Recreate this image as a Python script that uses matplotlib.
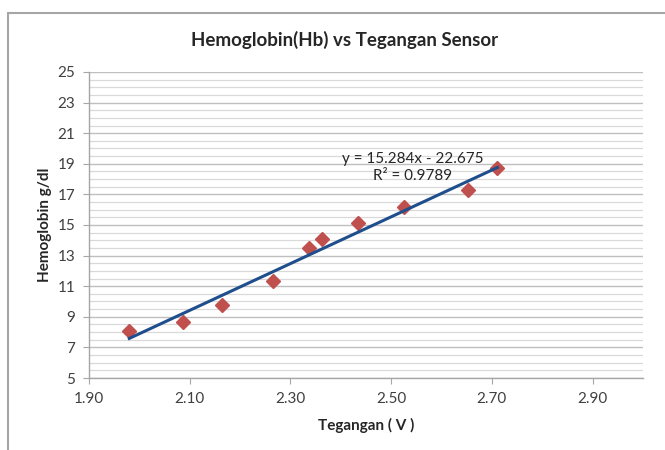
import numpy as np
import matplotlib
matplotlib.use('Agg')
import matplotlib.pyplot as plt
from matplotlib.patches import Rectangle
from matplotlib.ticker import MultipleLocator, FormatStrFormatter

# data
tegangan = [1.980, 2.086, 2.164, 2.266, 2.337, 2.362, 2.434, 2.525, 2.653, 2.711]
hb = [8.07, 8.64, 9.77, 11.36, 13.52, 14.07, 15.11, 16.16, 17.29, 18.71]
slope = 15.284
intercept = -22.675
r2 = 0.9789

plt.rcParams['font.family'] = ['Lato', 'DejaVu Sans']

fig = plt.figure(figsize=(6.65, 4.5), dpi=100)
ax = fig.add_axes([89 / 665, 1 - 378 / 450, (643 - 89) / 665, (378 - 72) / 450])

# chart area border (right and bottom edges fall outside the image)
fig.patches.append(Rectangle((8 / 665, -0.05), 1.1, 1 - 13 / 450 + 0.05,
                             transform=fig.transFigure, fill=False,
                             edgecolor='#a6a6a6', linewidth=1.5))

ax.plot(tegangan, hb, linestyle='none', marker='D', markersize=7.5,
        color='#c0504d', zorder=3)

xs = np.array([min(tegangan), max(tegangan)])
ax.plot(xs, slope * xs + intercept, color='#1f4e8c', linewidth=2.2, zorder=4)

ax.text(2.542, 18.75, 'y = %.3fx - %.3f\nR² = %.4f' % (slope, -intercept, r2),
        ha='center', va='center', fontsize=11, color='#262626',
        linespacing=1.3, zorder=5)

ax.set_xlim(1.9, 3.0)
ax.set_ylim(5, 25)
ax.set_xticks(np.arange(1.9, 2.95, 0.2))
ax.xaxis.set_major_formatter(FormatStrFormatter('%.2f'))
ax.set_yticks(np.arange(5, 26, 2))
ax.yaxis.set_minor_locator(MultipleLocator(0.5))

ax.grid(True, axis='y', which='major', color='#bfbfbf', linewidth=1.0)
ax.grid(True, axis='y', which='minor', color='#d9d9d9', linewidth=0.9)
ax.set_axisbelow(True)

for s in ['top', 'right']:
    ax.spines[s].set_visible(False)
for s in ['left', 'bottom']:
    ax.spines[s].set_color('#a6a6a6')
    ax.spines[s].set_linewidth(1.0)

ax.tick_params(which='major', direction='out', length=4, color='#a6a6a6',
               labelsize=11, labelcolor='#404040', pad=6)
ax.tick_params(which='minor', length=0)

fig.text(345 / 665, 1 - 40 / 450, 'Hemoglobin(Hb) vs Tegangan Sensor',
         ha='center', va='center', fontsize=13.5, fontweight='bold', color='#262626')
fig.text(366 / 665, 1 - 425 / 450, 'Tegangan ( V )',
         ha='center', va='center', fontsize=11, fontweight='bold', color='#262626')
fig.text(45 / 665, 1 - 225 / 450, 'Hemoglobin g/dl', rotation=90,
         ha='center', va='center', fontsize=11, fontweight='bold', color='#262626')

fig.savefig('out.png', dpi=100)
